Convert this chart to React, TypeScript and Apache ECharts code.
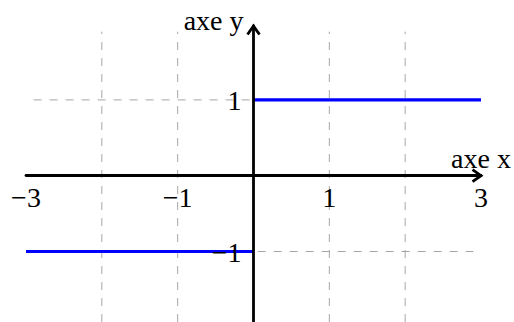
import React, { useEffect, useRef } from "react";
import * as echarts from "echarts";

// Sign function: y = -1 for x < 0, y = 1 for x > 0
const negSegment: [number, number][] = [[-3, -1], [0, -1]];
const posSegment: [number, number][] = [[0, 1], [3, 1]];

const xLabelValues = [-3, -1, 1, 3];
const yLabelValues = [-1, 1];

// dashed guide lines
const guideXs = [-2, -1, 1, 2];
const guideYs = [-1, 1];
const guideXSpan: [number, number] = [-2.9, 2.9];
const guideYSpan: [number, number] = [-1.93, 1.9];

const xRange: [number, number] = [-3, 3];
const yRange: [number, number] = [-1.93, 1.975];

const FONT = "Liberation Serif";
const FONT_SIZE = 28;

const fmt = (v: number) => (v < 0 ? "\u2212" + Math.abs(v) : String(v));

export default function App() {
  const ref = useRef<HTMLDivElement>(null);

  useEffect(() => {
    if (!ref.current) return;
    const chart = echarts.init(ref.current, undefined, { renderer: "svg" });

    const guideStyle = { color: "#a6a6a6", width: 1, type: [8, 8] };
    const guideSeries: any[] = [];
    guideXs.forEach((gx) => {
      guideSeries.push({
        type: "line",
        data: [[gx, guideYSpan[0]], [gx, guideYSpan[1]]],
        symbol: "none",
        silent: true,
        z: 1,
        lineStyle: guideStyle,
      });
    });
    guideYs.forEach((gy) => {
      guideSeries.push({
        type: "line",
        data: [[guideXSpan[0], gy], [guideXSpan[1], gy]],
        symbol: "none",
        silent: true,
        z: 1,
        lineStyle: guideStyle,
      });
    });

    // tick labels sitting next to the axes through the origin
    const tickLabelData = [
      ...xLabelValues.map((v) => [v, 0, 0]),
      ...yLabelValues.map((v) => [0, v, 1]),
    ];

    chart.setOption({
      animation: false,
      grid: {
        left: 26,
        right: 33,
        top: 26,
        bottom: 0,
        containLabel: false,
        outerBoundsMode: "none",
      },
      xAxis: {
        type: "value",
        min: xRange[0],
        max: xRange[1],
        interval: 1,
        z: 10,
        name: "axe x",
        nameLocation: "end",
        nameGap: 0,
        nameTextStyle: {
          fontFamily: FONT,
          fontSize: FONT_SIZE,
          color: "#000",
          align: "center",
          verticalAlign: "bottom",
          padding: [0, 0, 3, 0],
        },
        axisLine: { onZero: true, lineStyle: { color: "#000", width: 2.8 } },
        axisTick: { show: false },
        splitLine: { show: false },
        axisLabel: { show: false },
      },
      yAxis: {
        type: "value",
        min: yRange[0],
        max: yRange[1],
        z: 10,
        name: "axe y",
        nameLocation: "end",
        nameGap: -8,
        nameTextStyle: {
          fontFamily: FONT,
          fontSize: FONT_SIZE,
          color: "#000",
          align: "right",
          verticalAlign: "bottom",
          padding: [0, 10, 0, 0],
        },
        axisLine: { onZero: true, lineStyle: { color: "#000", width: 2.8 } },
        axisTick: { show: false },
        splitLine: { show: false },
        axisLabel: { show: false },
      },
      series: [
        ...guideSeries,
        {
          type: "line",
          data: negSegment,
          symbol: "none",
          z: 3,
          lineStyle: { color: "#0000ff", width: 3.2 },
        },
        {
          type: "line",
          data: posSegment,
          symbol: "none",
          z: 3,
          lineStyle: { color: "#0000ff", width: 3.2 },
        },
        {
          type: "custom",
          z: 12,
          silent: true,
          clip: false,
          data: tickLabelData,
          renderItem: (params: any, api: any) => {
            const v0 = api.value(0);
            const v1 = api.value(1);
            const onX = api.value(2) === 0;
            const p = api.coord([v0, v1]);
            return {
              type: "text",
              x: onX ? p[0] : p[0] - 12,
              y: onX ? p[1] + 22 : p[1] + 1,
              style: {
                text: fmt(onX ? v0 : v1),
                fontFamily: FONT,
                fontSize: FONT_SIZE,
                fill: "#000",
                align: onX ? "center" : "right",
                verticalAlign: "middle",
              },
            };
          },
        },
        {
          // open arrow heads at the ends of both axes
          type: "custom",
          z: 11,
          silent: true,
          clip: false,
          data: [
            [xRange[1], 0, 0],
            [0, yRange[1], 1],
          ],
          renderItem: (params: any, api: any) => {
            const p = api.coord([api.value(0), api.value(1)]);
            const dir = api.value(2);
            const pts =
              dir === 0
                ? [[p[0] - 8.5, p[1] - 6], [p[0], p[1]], [p[0] - 8.5, p[1] + 6]]
                : [[p[0] - 6, p[1] + 8.5], [p[0], p[1]], [p[0] + 6, p[1] + 8.5]];
            return {
              type: "polyline",
              shape: { points: pts },
              style: { stroke: "#000", lineWidth: 2.8, fill: "none" },
            };
          },
        },
      ],
    });

    return () => chart.dispose();
  }, []);

  return (
    <div
      ref={ref}
      style={{ position: "absolute", left: 0, top: 0, width: 514, height: 322 }}
    />
  );
}
